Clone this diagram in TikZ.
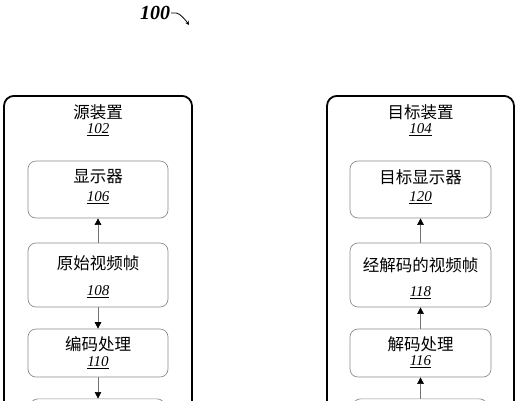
\documentclass[tikz,border=0pt]{standalone}
\usepackage{fontspec}
\setmainfont{Liberation Serif}
\newfontfamily\cjk{Noto Sans CJK SC}
\usetikzlibrary{arrows.meta}
\tikzset{
  outerbox/.style={draw=black, line width=1.8bp, rounded corners=10bp, minimum width=188bp, anchor=north, inner sep=0pt},
  innerbox/.style={draw=black!45, line width=0.7bp, rounded corners=8bp, inner sep=0pt},
  cjktext/.style={font=\cjk\fontsize{16.5bp}{18bp}\selectfont, inner sep=0pt},
  numtext/.style={font=\itshape\fontsize{15bp}{17bp}\selectfont, inner sep=0pt},
  flow/.style={draw=black!55, line width=0.6bp, -{Triangle[length=6.5bp,width=6.5bp,color=black]}},
}
\newcommand{\unum}[1]{\underline{#1}}
\begin{document}
\begin{tikzpicture}[x=1bp,y=-1bp]
\useasboundingbox (0,0) rectangle (521,400);
\clip (0,0) rectangle (521,400);
% figure label
\node[font=\bfseries\itshape\fontsize{20bp}{22bp}\selectfont, inner sep=0pt] (fig) at (155,13) {100};
\coordinate (sq) at (189,25);
\draw[line width=0.8bp, -{Stealth[length=4bp,width=4bp]}] (fig.east) ++(1,0) coordinate (sq0) -- ++(5,0) .. controls +(4,0) and +(-2,-3) .. (sq);
% outer boxes
\node[outerbox, minimum height=420bp] (src) at (98,95) {};
\node[outerbox, minimum height=420bp, minimum width=187bp] (dst) at (420.5,95) {};
\node[cjktext] (srct) at (98,112) {源装置};
\node[numtext] (srcn) at (98,130) {\unum{102}};
\node[cjktext] (dstt) at (420.5,112) {目标装置};
\node[numtext] (dstn) at (420.5,130) {\unum{104}};
% left inner boxes
\node[innerbox, minimum width=140bp, minimum height=57bp] (b106) at (98,189.5) {};
\node[innerbox, minimum width=140bp, minimum height=64bp] (b108) at (98,275) {};
\node[innerbox, minimum width=140bp, minimum height=48bp] (b110) at (98,353) {};
\node[innerbox, minimum width=135bp, minimum height=48bp, anchor=north] (b112) at (97.5,398.5) {};
\node[cjktext] (t106) at (98,177) {显示器};
\node[numtext] (n106) at (98,198) {\unum{106}};
\node[cjktext] (t108) at (98,263) {原始视频帧};
\node[numtext] (n108) at (98,292) {\unum{108}};
\node[cjktext] (t110) at (98,344) {编码处理};
\node[numtext] (n110) at (98,363) {\unum{110}};
% right inner boxes
\node[innerbox, minimum width=141bp, minimum height=57bp] (b120) at (420.5,189.5) {};
\node[innerbox, minimum width=141bp, minimum height=64bp] (b118) at (420.5,275) {};
\node[innerbox, minimum width=141bp, minimum height=48bp] (b116) at (420.5,353) {};
\node[innerbox, minimum width=135bp, minimum height=48bp, anchor=north] (b114) at (420,398.5) {};
\node[cjktext] (t120) at (420.5,177) {目标显示器};
\node[numtext] (n120) at (420.5,198) {\unum{120}};
\node[cjktext] (t118) at (420.5,265) {经解码的视频帧};
\node[numtext] (n118) at (420.5,293) {\unum{118}};
\node[cjktext] (t116) at (420.5,344) {解码处理};
\node[numtext] (n116) at (420.5,362) {\unum{116}};
% connectors
\draw[flow] (b108.north) -- (b106.south);
\draw[flow] (b108.south) -- (b110.north);
\draw[flow] (b110.south) -- (b112.north -| b110.south);
\draw[flow] (b118.north) -- (b120.south);
\draw[flow] (b116.north) -- (b118.south);
\draw[flow] (b114.north -| b116.south) -- (b116.south);
\end{tikzpicture}
\end{document}
